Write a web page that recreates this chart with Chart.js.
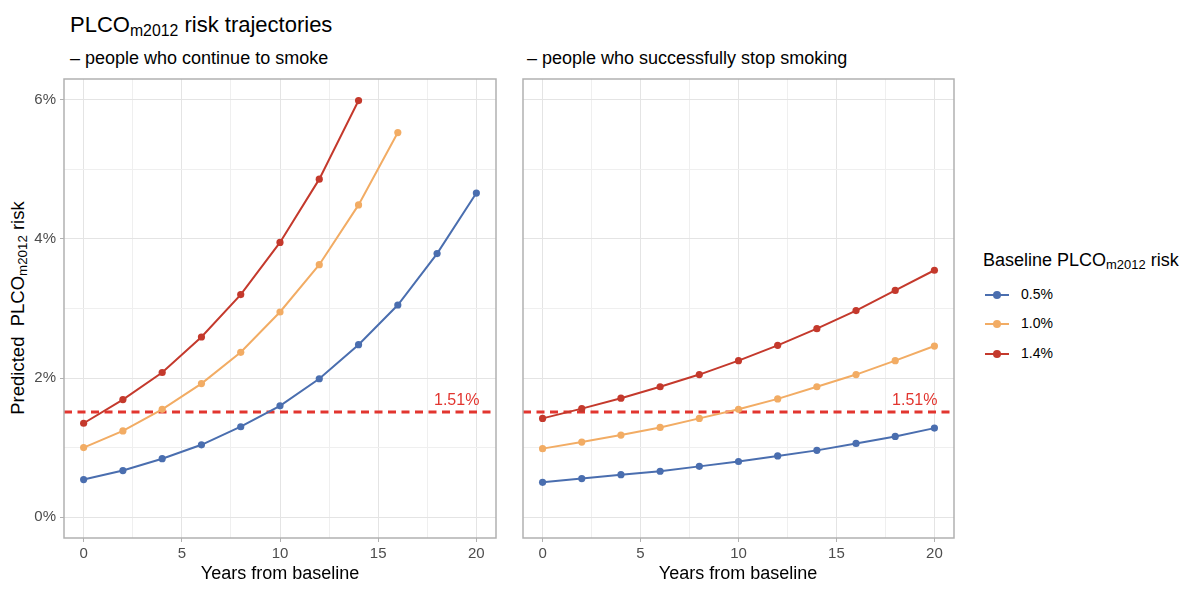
<!DOCTYPE html>
<html>
<head>
<meta charset="utf-8">
<script src="https://cdn.jsdelivr.net/npm/chart.js@4.4.0/dist/chart.umd.min.js"></script>
<style>
  body { margin: 0; background: #fff; font-family: "Liberation Sans", Arial, sans-serif; }
  #page { position: relative; width: 1200px; height: 607px; overflow: hidden; }
  .txt { position: absolute; white-space: nowrap; color: #000; }
  .txt sub { font-size: 72%; vertical-align: -0.25em; line-height: 0; }
  .box { position: absolute; }
  .leg { position: absolute; left: 985px; width: 24px; height: 2px; }
  .leg i { position: absolute; left: 8px; top: -3px; width: 8px; height: 8px; border-radius: 50%; }
</style>
</head>
<body>
<div id="page">
  <div class="txt" style="left:70px; top:12px; font-size:22px;">PLCO<sub>m2012</sub> risk trajectories</div>
  <div class="txt" style="left:70px; top:48px; font-size:18px;">– people who continue to smoke</div>
  <div class="txt" style="left:527px; top:48px; font-size:18px;">– people who successfully stop smoking</div>

  <div class="txt" style="left:18px; top:308px; font-size:18.5px; transform: translate(-50%,-50%) rotate(-90deg);">Predicted&nbsp; PLCO<sub>m2012</sub> risk</div>

  <div class="box" style="left:0px; top:70px; width:500px; height:500px;"><canvas id="left"></canvas></div>
  <div class="box" style="left:510px; top:70px; width:450px; height:500px;"><canvas id="right"></canvas></div>

  <div class="txt" style="left:280px; top:563px; font-size:18px; transform: translateX(-50%);">Years from baseline</div>
  <div class="txt" style="left:738px; top:563px; font-size:18px; transform: translateX(-50%);">Years from baseline</div>

  <div class="txt" style="left:983px; top:250px; font-size:18px;">Baseline PLCO<sub>m2012</sub> risk</div>
  <div id="legend"></div>
</div>

<script>
// x values (years from baseline)
const years = [0, 2, 4, 6, 8, 10, 12, 14, 16, 18, 20];

// continue smoking, predicted risk (%)
const smokeLow  = [0.54, 0.67, 0.84, 1.04, 1.30, 1.60, 1.99, 2.48, 3.05, 3.79, 4.66];
const smokeMid  = [1.00, 1.24, 1.55, 1.92, 2.37, 2.95, 3.63, 4.49, 5.53];
const smokeHigh = [1.35, 1.69, 2.08, 2.59, 3.20, 3.95, 4.86, 5.99];

// stop smoking, predicted risk (%)
const quitLow  = [0.50, 0.555, 0.61, 0.66, 0.73, 0.80, 0.88, 0.96, 1.06, 1.16, 1.28];
const quitMid  = [0.985, 1.08, 1.18, 1.29, 1.42, 1.55, 1.70, 1.875, 2.05, 2.25, 2.46];
const quitHigh = [1.42, 1.56, 1.71, 1.875, 2.05, 2.25, 2.47, 2.71, 2.97, 3.26, 3.55];

const seriesLabels = ['0.5%', '1.0%', '1.4%'];
const colors = ['#4a6eaf', '#f2ac64', '#c4392c'];
const threshold = 1.51;
const thresholdLabel = '1.51%';
const thresholdColor = '#e2352f';

const xRange = [-1, 21];
const yRange = [-0.3, 6.3];

const fontFamily = '"Liberation Sans", Arial, sans-serif';
const majorGrid = '#e4e4e4';
const minorGrid = '#efefef';
const frameColor = '#b1b1b1';

// html legend
const legend = document.getElementById('legend');
seriesLabels.forEach((lab, i) => {
    const y = 295 + i * 29.3;
    legend.insertAdjacentHTML('beforeend',
        `<div class="leg" style="top:${y - 1}px; background:${colors[i]}"><i style="background:${colors[i]}"></i></div>` +
        `<div class="txt" style="left:1021px; top:${y - 9}px; font-size:14px;">${lab}</div>`);
});

function toPoints(values) {
    return values.map((v, i) => ({x: years[i], y: v}));
}

function makeDatasets(groups) {
    const sets = groups.map((vals, i) => ({
        label: seriesLabels[i],
        data: toPoints(vals),
        borderColor: colors[i],
        backgroundColor: colors[i],
        borderWidth: 2,
        pointRadius: 3.6,
        pointBorderWidth: 0,
        tension: 0
    }));
    // horizontal threshold line across the panel
    sets.push({
        label: 'threshold',
        data: [{x: xRange[0], y: threshold}, {x: xRange[1], y: threshold}],
        borderColor: thresholdColor,
        borderWidth: 3,
        borderDash: [8, 5.5],
        pointRadius: 0
    });
    return sets;
}

// panel frame and threshold text
const panelExtras = {
    id: 'panelExtras',
    afterDraw(chart) {
        const {ctx, chartArea: {left, top, width, height}, scales: {x, y}} = chart;
        ctx.save();
        ctx.strokeStyle = frameColor;
        ctx.lineWidth = 1.5;
        ctx.strokeRect(left, top, width, height);
        ctx.fillStyle = thresholdColor;
        ctx.font = '16px ' + fontFamily;
        ctx.textAlign = 'right';
        ctx.textBaseline = 'alphabetic';
        ctx.fillText(thresholdLabel, x.getPixelForValue(20) + 3, y.getPixelForValue(threshold) - 7);
        ctx.restore();
    }
};

function makeOptions(yWidth, showYTicks, padRight) {
    return {
        responsive: true,
        maintainAspectRatio: false,
        animation: false,
        layout: {padding: {top: 9, right: padRight, bottom: 0, left: 0}},
        plugins: {legend: {display: false}, tooltip: {enabled: false}},
        scales: {
            x: {
                type: 'linear',
                min: xRange[0],
                max: xRange[1],
                afterFit: (scale) => {
                    scale.height = 32;
                    scale.paddingLeft = 0;
                    scale.paddingRight = 0;
                },
                border: {display: false},
                grid: {
                    color: (c) => (c.tick && c.tick.value % 5 === 0) ? majorGrid : minorGrid,
                    tickColor: (c) => (c.tick && c.tick.value % 5 === 0) ? frameColor : 'rgba(0,0,0,0)',
                    tickLength: 4
                },
                ticks: {
                    stepSize: 2.5,
                    includeBounds: false,
                    maxRotation: 0,
                    autoSkip: false,
                    padding: 3,
                    color: '#4d4d4d',
                    font: {family: fontFamily, size: 15},
                    callback: (v) => v % 5 === 0 ? v : ''
                }
            },
            y: {
                min: yRange[0],
                max: yRange[1],
                afterFit: (scale) => {
                    scale.width = yWidth;
                    scale.paddingTop = 0;
                    scale.paddingBottom = 0;
                },
                border: {display: false},
                grid: {
                    color: (c) => (c.tick && c.tick.value % 2 === 0) ? majorGrid : minorGrid,
                    tickColor: (c) => (c.tick && c.tick.value % 2 === 0) ? frameColor : 'rgba(0,0,0,0)',
                    tickLength: 4,
                    drawTicks: showYTicks
                },
                ticks: {
                    display: showYTicks,
                    stepSize: 1,
                    includeBounds: false,
                    autoSkip: false,
                    padding: 4,
                    color: '#4d4d4d',
                    font: {family: fontFamily, size: 15},
                    callback: (v) => v % 2 === 0 ? v + '%' : ''
                }
            }
        }
    };
}

new Chart(document.getElementById('left'), {
    type: 'line',
    data: {datasets: makeDatasets([smokeLow, smokeMid, smokeHigh])},
    options: makeOptions(64, true, 4),
    plugins: [panelExtras]
});

new Chart(document.getElementById('right'), {
    type: 'line',
    data: {datasets: makeDatasets([quitLow, quitMid, quitHigh])},
    options: makeOptions(13, false, 6),
    plugins: [panelExtras]
});
</script>
</body>
</html>
